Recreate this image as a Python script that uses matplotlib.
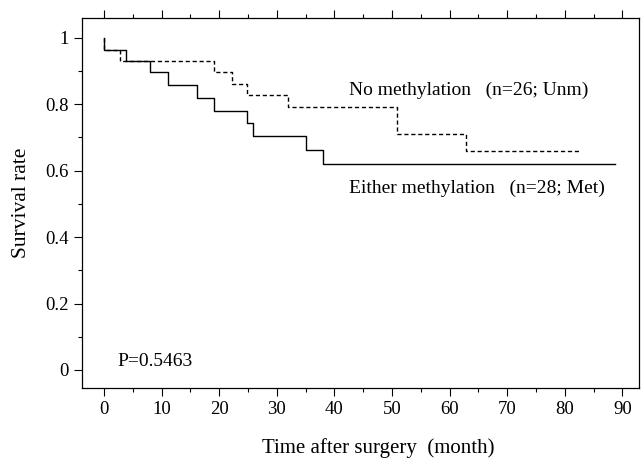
import matplotlib
matplotlib.use('Agg')
from matplotlib import pyplot as plt
from matplotlib.ticker import MultipleLocator

# Kaplan-Meier steps
met_time = [0, 0, 3.8, 8.0, 11.2, 16.2, 19.1, 24.9, 25.9, 35.0, 38.1, 88.7]
met_surv = [1.0, 0.964, 0.930, 0.896, 0.857, 0.820, 0.781, 0.745, 0.704, 0.661, 0.620, 0.620]

unm_time = [0, 0, 2.8, 19.1, 22.2, 24.9, 31.9, 50.8, 62.8, 82.6]
unm_surv = [1.0, 0.963, 0.931, 0.898, 0.862, 0.828, 0.793, 0.711, 0.660, 0.660]

x_ticks = [0, 10, 20, 30, 40, 50, 60, 70, 80, 90]
y_ticks = [0, 0.2, 0.4, 0.6, 0.8, 1]
y_labels = ['0', '0.2', '0.4', '0.6', '0.8', '1']

plt.rcParams['font.family'] = ['Liberation Serif', 'DejaVu Serif']

fig = plt.figure(figsize=(6.41, 4.58), dpi=100)
ax = fig.add_axes([0.128, 0.153, 0.869, 0.808])

ax.step(met_time, met_surv, where='post', color='black', lw=1.0)
ax.step(unm_time, unm_surv, where='post', color='black', lw=1.0, linestyle=(0, (3, 2)))

ax.set_xlim(-3.8, 92.9)
ax.set_ylim(-0.054, 1.06)
ax.set_xticks(x_ticks)
ax.set_yticks(y_ticks)
ax.set_yticklabels(y_labels)
ax.xaxis.set_minor_locator(MultipleLocator(5))
ax.yaxis.set_minor_locator(MultipleLocator(0.1))
ax.tick_params(axis='both', which='major', direction='out', length=6, width=0.8, labelsize=13.5)
ax.tick_params(axis='both', which='minor', direction='out', length=3, width=0.8)
ax.tick_params(axis='x', top=True, which='both')
ax.tick_params(axis='y', right=False)
for s in ax.spines.values():
    s.set_linewidth(0.9)

ax.text(42.5, 0.841, 'No methylation\u2002 (n=26; Unm)', fontsize=14, va='center', ha='left')
ax.text(42.5, 0.548, 'Either methylation\u2002 (n=28; Met)', fontsize=14, va='center', ha='left')
ax.text(2.3, 0.027, 'P=0.5463', fontsize=14, va='center', ha='left')

ax.set_xlabel('Time after surgery  (month)', fontsize=15)
ax.xaxis.set_label_coords(0.532, -0.135)
ax.set_ylabel('Survival rate', fontsize=15.5, labelpad=10)

fig.savefig('out.png', dpi=100)
